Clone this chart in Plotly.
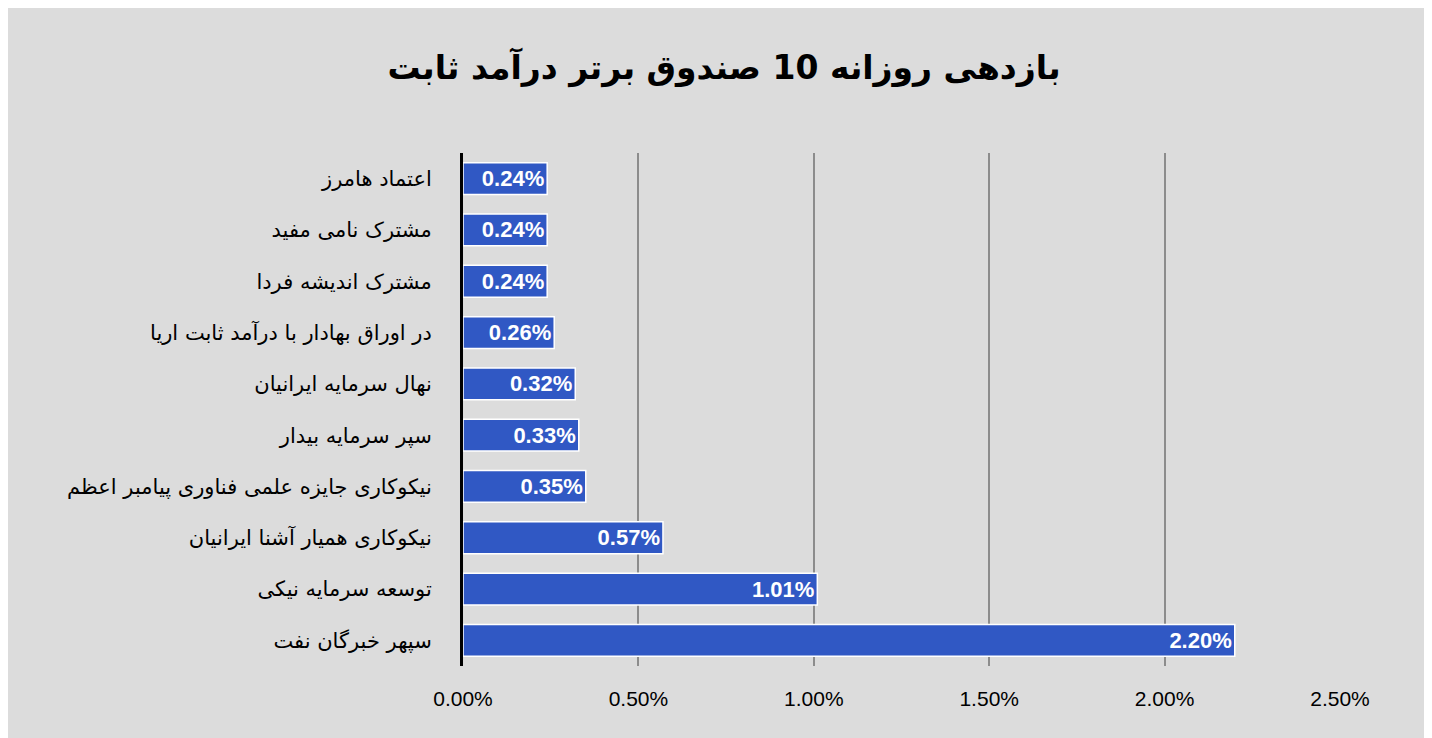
import plotly.graph_objects as go

# fund names (top to bottom) and daily returns in %
funds = [
    "اعتماد هامرز",
    "مشترک نامی مفید",
    "مشترک اندیشه فردا",
    "در اوراق بهادار با درآمد ثابت اریا",
    "نهال سرمایه ایرانیان",
    "سپر سرمایه بیدار",
    "نیکوکاری جایزه علمی فناوری پیامبر اعظم",
    "نیکوکاری همیار آشنا ایرانیان",
    "توسعه سرمایه نیکی",
    "سپهر خبرگان نفت",
]
returns = [0.24, 0.24, 0.24, 0.26, 0.32, 0.33, 0.35, 0.57, 1.01, 2.20]

tick_vals = [0, 0.5, 1.0, 1.5, 2.0, 2.5]
tick_text = ["0.00%", "0.50%", "1.00%", "1.50%", "2.00%", "2.50%"]

fig = go.Figure()
fig.add_trace(go.Bar(
    y=funds,
    x=returns,
    orientation="h",
    marker=dict(color="#3058c4", line=dict(color="white", width=1.5)),
    width=0.62,
    text=[f"{v:.2f}%" for v in returns],
    textposition="inside",
    insidetextanchor="end",
    textfont=dict(color="white", size=22, family="Liberation Sans"),
    texttemplate="<b>%{text}</b>",
    cliponaxis=False,
))

fig.update_layout(
    width=1432, height=738,
    paper_bgcolor="#dcdcdc",
    plot_bgcolor="rgba(0,0,0,0)",
    title=dict(
        text="<b>بازدهی روزانه 10 صندوق برتر درآمد ثابت</b>",
        x=0.5, y=0.935, xanchor="center",
        font=dict(size=33, color="black", family="DejaVu Sans"),
    ),
    margin=dict(l=455, r=100, t=145, b=80),
    showlegend=False,
    bargap=0.3,
    xaxis=dict(
        range=[0, 2.5],
        tickvals=tick_vals, ticktext=tick_text,
        showgrid=True, gridcolor="#8c8c8c", gridwidth=2,
        zeroline=False, showline=False,
        tickfont=dict(size=21, color="black", family="Liberation Sans"),
        ticks="", ticklabelstandoff=18,
    ),
    yaxis=dict(
        autorange="reversed",
        showline=True, linecolor="black", linewidth=3,
        tickfont=dict(size=21, color="black", family="DejaVu Sans"),
        ticks="", ticklabelstandoff=24,
    ),
)

fig.write_html("out.html")
